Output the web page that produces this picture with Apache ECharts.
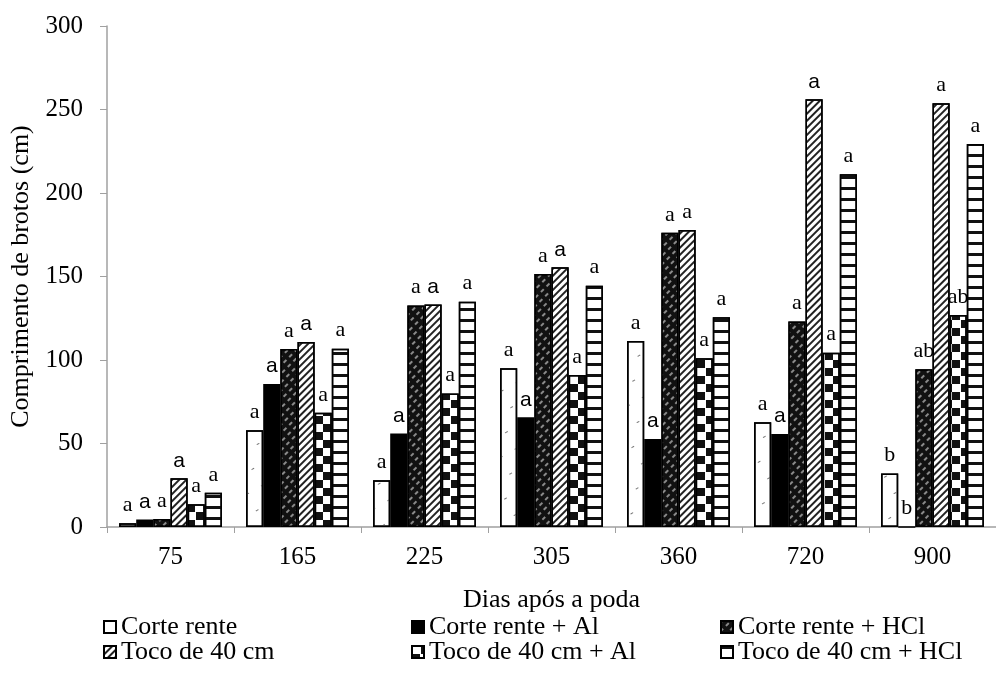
<!DOCTYPE html>
<html>
<head>
<meta charset="utf-8">
<script src="https://cdn.jsdelivr.net/npm/echarts@6/dist/echarts.min.js"></script>
<style>
  html, body { margin: 0; padding: 0; background: #fff; }
  #main { width: 996px; height: 673px; }
</style>
</head>
<body>
<div id="main"></div>
<script>
const categories = ['75', '165', '225', '305', '360', '720', '900'];
const seriesNames = ['Corte rente', 'Corte rente + Al', 'Corte rente + HCl',
  'Toco de 40 cm', 'Toco de 40 cm + Al', 'Toco de 40 cm + HCl'];

const corteRente = [2.2, 58, 28, 95, 111.4, 62.7, 32];
const corteRenteAl = [4.5, 85.6, 56, 65.7, 52.7, 55.7, 0];
const corteRenteHCl = [4.8, 106.6, 132.7, 151.5, 176.2, 123, 94.4];
const toco40 = [29.2, 110.8, 133.3, 155.5, 177.8, 256.1, 253.7];
const toco40Al = [13.6, 68.4, 80, 91, 101, 104.4, 127];
const toco40HCl = [20.5, 106.8, 134.9, 144.5, 125.6, 211.2, 229.3];

// letras de significancia
const lettersCorteRente = ['a', 'a', 'a', 'a', 'a', 'a', 'b'];
const lettersCorteRenteAl = ['a', 'a', 'a', 'a', 'a', 'a', 'b'];
const lettersCorteRenteHCl = ['a', 'a', 'a', 'a', 'a', 'a', 'ab'];
const lettersToco40 = ['a', 'a', 'a', 'a', 'a', 'a', 'a'];
const lettersToco40Al = ['a', 'a', 'a', 'a', 'a', 'a', 'ab'];
const lettersToco40HCl = ['a', 'a', 'a', 'a', 'a', 'a', 'a'];

const yTicks = [0, 50, 100, 150, 200, 250, 300];

const values = [corteRente, corteRenteAl, corteRenteHCl, toco40, toco40Al, toco40HCl];
const letters = [lettersCorteRente, lettersCorteRenteAl, lettersCorteRenteHCl,
  lettersToco40, lettersToco40Al, lettersToco40HCl];

// some letters in the original are set in a sans font
const sansLabels = { 1: [0, 1, 2, 3, 4, 5], 3: [0, 1, 2, 3, 5] };

const serif = 'Liberation Serif';

const styles = [
  { color: '#fff', decal: { symbol: 'rect', color: '#777', dashArrayX: [[3, 14]], dashArrayY: [1, 18], rotation: -Math.PI / 6, symbolKeepAspect: false } },
  { color: '#000', decal: null },
  { color: '#111', decal: { symbol: 'rect', color: '#8a8a8a', dashArrayX: [[4, 4]], dashArrayY: [2, 4], rotation: -Math.PI / 4, symbolKeepAspect: false } },
  { color: '#fff', decal: { symbol: 'rect', color: '#222', dashArrayX: [1, 0], dashArrayY: [2, 3], rotation: -Math.PI / 4, symbolKeepAspect: false } },
  { color: '#fff', decal: { symbol: 'rect', color: '#111', dashArrayX: [[8, 9], [0, 9, 8, 0]], dashArrayY: [8, 0], symbolKeepAspect: false } },
  { color: '#fff', decal: { symbol: 'rect', color: '#111', dashArrayX: [1, 0], dashArrayY: [3, 8], rotation: 0, symbolKeepAspect: false } }
];

// legend layout: three columns, two rows
const legendCols = [98, 406, 715];
const legendRows = [609, 634];

const chart = echarts.init(document.getElementById('main'));

const series = values.map((data, s) => {
  const itemStyle = {
    color: styles[s].color,
    borderColor: '#000',
    borderWidth: 1.5
  };
  if (styles[s].decal) itemStyle.decal = styles[s].decal;
  return {
    name: seriesNames[s],
    type: 'bar',
    data: data,
    barGap: 0,
    barCategoryGap: '19%',
    itemStyle: itemStyle,
    label: {
      show: true,
      position: 'top',
      distance: 7,
      formatter: p => {
        const sans = sansLabels[p.seriesIndex] && sansLabels[p.seriesIndex].includes(p.dataIndex);
        return '{' + (sans ? 's' : 't') + '|' + letters[p.seriesIndex][p.dataIndex] + '}';
      },
      rich: {
        t: { fontFamily: serif, fontSize: 22, color: '#000' },
        s: { fontFamily: 'Liberation Sans', fontSize: 21, color: '#000' }
      }
    }
  };
});

const legends = seriesNames.map((name, i) => ({
  left: legendCols[i % 3],
  top: legendRows[Math.floor(i / 3)],
  data: [name],
  itemWidth: 12,
  itemHeight: 12,
  icon: 'rect',
  selectedMode: false,
  textStyle: { fontFamily: serif, fontSize: 26, color: '#000' }
}));

const option = {
  animation: false,
  backgroundColor: '#fff',
  grid: { left: 107, right: -11, top: 26, bottom: 146 },
  legend: legends,
  xAxis: {
    type: 'category',
    data: categories,
    name: 'Dias após a poda',
    nameLocation: 'middle',
    nameGap: 60,
    nameTextStyle: { fontFamily: serif, fontSize: 26, color: '#000' },
    axisLine: { lineStyle: { color: '#a0a0a0', width: 1.5 } },
    axisTick: { show: true, length: 6, lineStyle: { color: '#a0a0a0' } },
    axisLabel: { fontFamily: serif, fontSize: 25, color: '#000', margin: 18 }
  },
  yAxis: {
    type: 'value',
    min: yTicks[0],
    max: yTicks[yTicks.length - 1],
    interval: yTicks[1] - yTicks[0],
    name: 'Comprimento de brotos (cm)',
    nameLocation: 'middle',
    nameGap: 72,
    nameTextStyle: { fontFamily: serif, fontSize: 26, color: '#000' },
    axisLine: { show: true, lineStyle: { color: '#a0a0a0', width: 1.5 } },
    axisTick: { show: true, length: 7, lineStyle: { color: '#a0a0a0' } },
    axisLabel: { fontFamily: serif, fontSize: 25, color: '#000', margin: 24 },
    splitLine: { show: false }
  },
  series: series
};

chart.setOption(option);
</script>
</body>
</html>
